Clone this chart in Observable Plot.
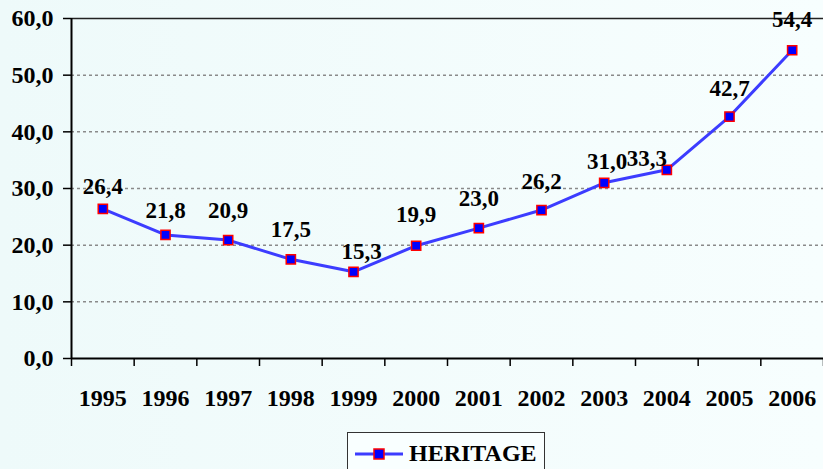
<!DOCTYPE html>
<html>
<head>
<meta charset="utf-8">
<script src="https://cdn.jsdelivr.net/npm/d3@7"></script>
<script src="https://cdn.jsdelivr.net/npm/@observablehq/plot@0.6"></script>
<style>
  html, body { margin: 0; padding: 0; }
  body {
    width: 823px; height: 469px; overflow: hidden;
    background: linear-gradient(to right, #eefafa, #f7fefe);
    font-family: "Liberation Serif", "Times New Roman", serif;
  }
  #chart svg { display: block; background: transparent; }
  #legend {
    position: absolute; left: 347px; top: 432px; width: 198px; height: 44px;
    border: 1.5px solid #333; box-sizing: border-box;
    background: #f9ffff;
    display: flex; align-items: flex-start;
  }
  #legend svg { display: block; margin-left: 6px; margin-top: 14px; }
  #legend span { font-weight: bold; font-size: 24px; margin-left: 5px; margin-top: 7px; line-height: 26px; color: #000; }
</style>
</head>
<body>
<div id="chart"></div>
<div id="legend"></div>
<script>
// ---- data ----
const years = [1995, 1996, 1997, 1998, 1999, 2000, 2001, 2002, 2003, 2004, 2005, 2006];
const heritage = [26.4, 21.8, 20.9, 17.5, 15.3, 19.9, 23.0, 26.2, 31.0, 33.3, 42.7, 54.4];
const seriesName = "HERITAGE";
const yTicks = [0, 10, 20, 30, 40, 50, 60];

// label nudges (styling only), [dx, dy] in pixels
const labelNudge = {
  1995: [0, -22], 1996: [0, -24], 1997: [0, -29], 1998: [0, -30],
  1999: [8, -20], 2000: [0, -31], 2001: [0, -30], 2002: [0, -28],
  2003: [3, -21], 2004: [-20, -11], 2005: [0, -28], 2006: [0, -31]
};

const data = years.map((y, i) => ({year: y, value: heritage[i]}));
const fmt = v => d3.format(".1f")(v).replace(".", ",");
const font = '"Liberation Serif", "Times New Roman", serif';

const labelMarks = years.map(yr => Plot.text(data.filter(d => d.year === yr), {
  x: "year", y: "value", text: d => fmt(d.value),
  dx: labelNudge[yr][0], dy: labelNudge[yr][1],
  fontSize: 23, fontWeight: "bold", fill: "#000", fontFamily: font
}));

const boundaries = years.map(y => y - 0.5).concat([years[years.length - 1] + 0.5]);

const chart = Plot.plot({
  width: 823,
  height: 430,
  marginLeft: 71,
  marginRight: 0,
  marginTop: 18,
  marginBottom: 72,
  style: {background: "transparent", fontFamily: font},
  x: {type: "linear", domain: [years[0] - 0.5, years[years.length - 1] + 0.5], axis: null, label: null},
  y: {domain: [0, 60], axis: null, label: null},
  marks: [
    Plot.ruleY(yTicks.filter(t => t > 0 && t < 60), {stroke: "#8a8a8a", strokeWidth: 1.5, strokeDasharray: "3,3"}),
    Plot.ruleY([60], {stroke: "#222", strokeWidth: 1.5}),
    Plot.axisY({ticks: yTicks, tickSize: 8, tickPadding: 10, tickFormat: fmt, label: null,
      fontSize: 24, fontWeight: "bold", stroke: "#000", strokeWidth: 1.5, fill: "#000"}),
    Plot.axisX({ticks: boundaries, tickSize: 8, tickFormat: () => "", label: null, stroke: "#000", strokeWidth: 1.5}),
    Plot.axisX({ticks: years, tickSize: 0, tickPadding: 30, tickFormat: d => String(d), label: null,
      fontSize: 24, fontWeight: "bold", fill: "#000"}),
    Plot.ruleX([years[0] - 0.5], {stroke: "#000", strokeWidth: 2}),
    Plot.ruleY([0], {stroke: "#000", strokeWidth: 2}),
    Plot.line(data, {x: "year", y: "value", stroke: "#3c3cff", strokeWidth: 3}),
    Plot.dot(data, {x: "year", y: "value", symbol: "square", r: 5.2, fill: "#0000ff", stroke: "#ff0000", strokeWidth: 1.5}),
    ...labelMarks
  ]
});
document.getElementById("chart").appendChild(chart);

// legend
const legend = document.getElementById("legend");
const sw = d3.create("svg").attr("width", 50).attr("height", 14);
sw.append("line").attr("x1", 1).attr("x2", 49).attr("y1", 7).attr("y2", 7).attr("stroke", "#3c3cff").attr("stroke-width", 3);
sw.append("rect").attr("x", 20).attr("y", 2).attr("width", 10).attr("height", 10).attr("fill", "#0000ff").attr("stroke", "#ff0000").attr("stroke-width", 1.5);
legend.appendChild(sw.node());
const sp = document.createElement("span");
sp.textContent = seriesName;
legend.appendChild(sp);
</script>
</body>
</html>
